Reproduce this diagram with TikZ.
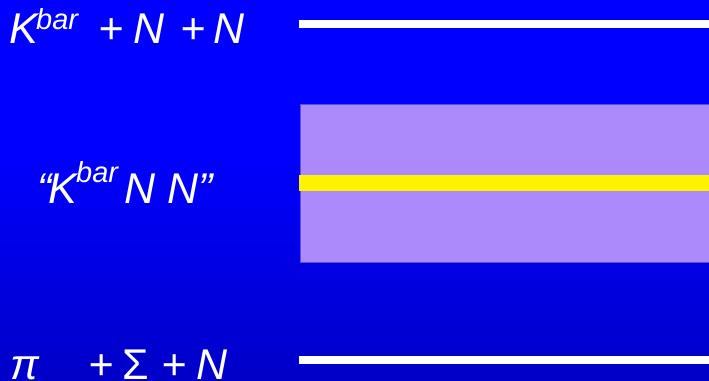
\documentclass[tikz,border=0pt]{standalone}
\usepackage{fontspec}
\setmainfont{Liberation Sans}
\definecolor{lav}{HTML}{AD8AFB}
\definecolor{lavedge}{HTML}{5A4FD6}
\definecolor{bgtop}{RGB}{0,0,255}
\definecolor{bgbot}{RGB}{0,0,200}
\begin{document}
\begin{tikzpicture}[x=1pt,y=-1pt,
  big/.style={text=white,inner sep=0pt,anchor=base west,font=\fontsize{43}{50}\selectfont\itshape},
  sup/.style={text=white,inner sep=0pt,anchor=base west,font=\fontsize{29}{32}\selectfont\itshape},
  level/.style={draw=white,line width=8pt},
  ]
\useasboundingbox (0,0) rectangle (709,380);
\fill[bgtop] (0,0) rectangle (709,150);
\shade[top color=bgtop,bottom color=bgbot] (0,149.5) rectangle (709,380);
% box
\fill[lav,draw=lavedge,line width=0.8pt] (300.5,104.5) rectangle (712,262);
\coordinate (ya) at (299,183);
\coordinate (yb) at (709,183);
\draw[yellow,line width=16pt] (ya) -- (yb);
% levels
\coordinate (ta) at (299,24);
\coordinate (tb) at (709,24);
\coordinate (ba) at (299,360);
\coordinate (bb) at (709,360);
\draw[level] (ta) -- (tb);
\draw[level] (ba) -- (bb);
% top label
\node[big] (k1) at (9,43) {K};
\node[sup] (b1) at (36,29) {bar};
\node[big] (p1) at (98,43) {+};
\node[big] (n1) at (133,43) {N};
\node[big] (p2) at (180,43) {+};
\node[big] (n2) at (213,43) {N};
% middle label
\node[big] (q1) at (37,203) {“};
\node[big] (k2) at (48,203) {K};
\node[sup] (b2) at (76,182) {bar};
\node[big] (n3) at (124,203) {N};
\node[big] (n4) at (167,203) {N”};
% bottom label
\node[big] (pi) at (10,379) {π};
\node[big] (p3) at (88,379) {+};
\node[big,font=\fontsize{43}{50}\selectfont\upshape] (sg) at (122,379) {Σ};
\node[big] (p4) at (161,379) {+};
\node[big] (n5) at (196,379) {N};
\end{tikzpicture}
\end{document}
